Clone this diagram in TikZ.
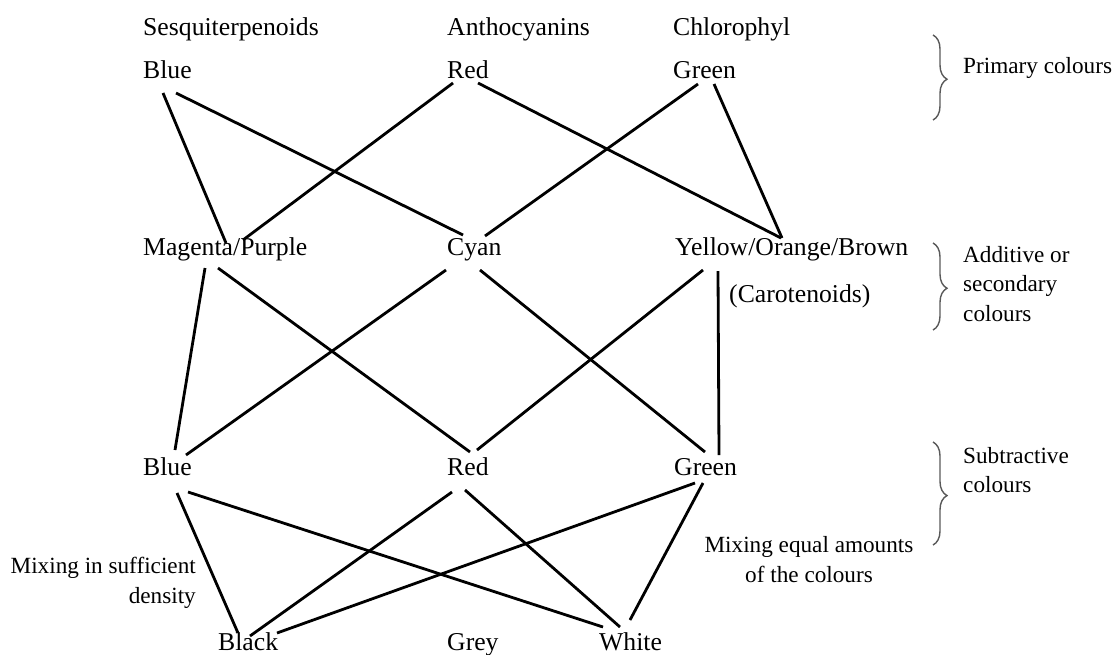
\documentclass[tikz,border=0pt]{standalone}
\usepackage{fontspec}
\setmainfont{Liberation Serif}
\usetikzlibrary{decorations.pathreplacing}
\begin{document}
\begin{tikzpicture}[x=1pt,y=-1pt,
  lbl/.style={inner sep=0pt,anchor=base west,font=\fontsize{25.7}{30}\selectfont},
  note/.style={inner sep=0pt,anchor=base west,font=\fontsize{23.2}{29}\selectfont},
  link/.style={line width=2.8pt},
  bracebar/.style={decorate,decoration={brace,amplitude=14pt,aspect=0.52},draw=black!65,line width=1.4pt}]
\useasboundingbox (0,0) rectangle (1115,654);
% header row
\node[lbl] (s1) at (143,35) {Sesquiterpenoids};
\node[lbl] (an) at (447,35) {Anthocyanins};
\node[lbl] (ch) at (673,35) {Chlorophyl};
% primary
\node[lbl] (pB) at (143,78) {Blue};
\node[lbl] (pR) at (447,78) {Red};
\node[lbl] (pG) at (673,78) {Green};
% additive
\node[lbl] (aM) at (143,255) {Magenta/Purple};
\node[lbl] (aC) at (447,255) {Cyan};
\node[lbl] (aY) at (675,255) {Yellow/Orange/Brown};
\node[lbl] (car) at (729,302) {(Carotenoids)};
% subtractive
\node[lbl] (sB) at (143,475) {Blue};
\node[lbl] (sR) at (447,475) {Red};
\node[lbl] (sG) at (674,475) {Green};
% mixtures
\node[lbl] (kB) at (218,650) {Black};
\node[lbl] (kG) at (447,650) {Grey};
\node[lbl] (kW) at (599,650) {White};
% notes
\node[note,anchor=base east] (m1) at (196,573) {Mixing in sufficient};
\node[note,anchor=base east] (m2) at (196,603) {density};
\node[note,anchor=base] (e1) at (809,552) {Mixing equal amounts};
\node[note,anchor=base] (e2) at (809,582) {of the colours};
\node[note] (t1) at (963,73) {Primary colours};
\node[note] (t2) at (963,262) {Additive or};
\node[note] (t3) at (963,291) {secondary};
\node[note] (t4) at (963,321) {colours};
\node[note] (t5) at (963,463) {Subtractive};
\node[note] (t6) at (963,492) {colours};
% braces
\coordinate (b1a) at (933,35);  \coordinate (b1b) at (933,120);
\coordinate (b2a) at (933,243); \coordinate (b2b) at (933,330);
\coordinate (b3a) at (933,442); \coordinate (b3b) at (933,545);
\draw[bracebar] (b1a) -- (b1b);
\draw[bracebar] (b2a) -- (b2b);
\draw[bracebar] (b3a) -- (b3b);
% primary -> additive
\draw[link] ([shift={(20,15)}]pB.base west) -- ([shift={(83,-12)}]aM.base west);
\draw[link] ([shift={(33,15)}]pB.base west) -- ([shift={(16,-20)}]aC.base west);
\draw[link] ([shift={(6,5)}]pR.base west) -- ([shift={(100,-15)}]aM.base west);
\draw[link] ([shift={(31,5)}]pR.base west) -- ([shift={(106,-17)}]aY.base west);
\draw[link] ([shift={(25,6)}]pG.base west) -- ([shift={(38,-19)}]aC.base west);
\draw[link] ([shift={(41,6)}]pG.base west) -- ([shift={(107,-17)}]aY.base west);
% additive -> subtractive
\draw[link] ([shift={(62,13)}]aM.base west) -- ([shift={(32,-25)}]sB.base west);
\draw[link] ([shift={(75,13)}]aM.base west) -- ([shift={(23,-23)}]sR.base west);
\draw[link] ([shift={(-1,15)}]aC.base west) -- ([shift={(43,-20)}]sB.base west);
\draw[link] ([shift={(33,15)}]aC.base west) -- ([shift={(31,-23)}]sG.base west);
\draw[link] ([shift={(28,15)}]aY.base west) -- ([shift={(30,-25)}]sR.base west);
\draw[link] ([shift={(43,16)}]aY.base west) -- ([shift={(45,-20)}]sG.base west);
% subtractive -> mixtures
\draw[link] ([shift={(34,18)}]sB.base west) -- ([shift={(20,-17)}]kB.base west);
\draw[link] ([shift={(45,17)}]sB.base west) -- ([shift={(4,-23)}]kW.base west);
\draw[link] ([shift={(5,17)}]sR.base west) -- ([shift={(32,-14)}]kB.base west);
\draw[link] ([shift={(18,15)}]sR.base west) -- ([shift={(21,-23)}]kW.base west);
\draw[link] ([shift={(21,8)}]sG.base west) -- ([shift={(59,-17)}]kB.base west);
\draw[link] ([shift={(29,8)}]sG.base west) -- ([shift={(31,-30)}]kW.base west);
\end{tikzpicture}
\end{document}
